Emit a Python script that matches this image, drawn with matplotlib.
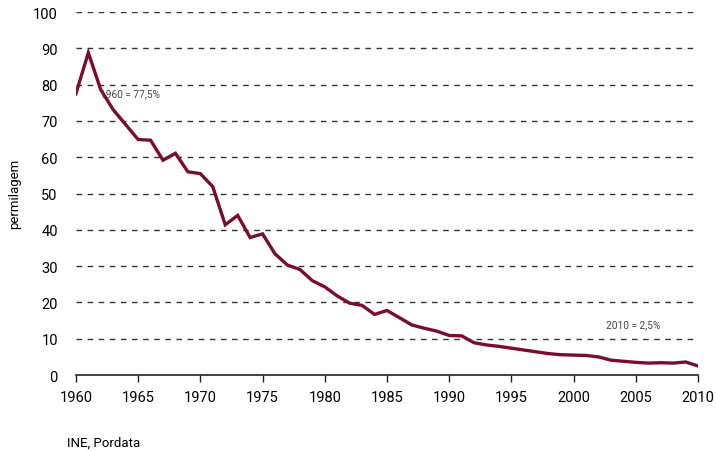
# mortalidade infantil, Portugal 1960-2010
import matplotlib.pyplot as plt
import numpy as np

years = list(range(1960, 2011))
permil = [77.5, 88.8, 78.6, 73.1, 69.0, 64.9, 64.7, 59.2, 61.1, 56.0,
          55.5, 51.9, 41.4, 44.0, 37.9, 38.9, 33.4, 30.3, 29.1, 26.0,
          24.3, 21.8, 19.8, 19.2, 16.7, 17.8, 15.8, 13.8, 12.9, 12.1,
          10.9, 10.8, 8.9, 8.3, 7.9, 7.4, 6.9, 6.4, 5.9, 5.6,
          5.5, 5.4, 5.0, 4.1, 3.8, 3.5, 3.3, 3.4, 3.3, 3.6, 2.5]

xticks = list(range(1960, 2011, 5))
yticks = list(range(0, 101, 10))

plt.rcParams['font.family'] = ['Roboto', 'DejaVu Sans']

fig = plt.figure(figsize=(7.16, 4.52), dpi=100)
ax = fig.add_axes([0.106, 0.168, 0.869, 0.803])

for y in yticks[1:]:
    ax.axhline(y, color='#333333', lw=1, ls=(0, (4, 4)), zorder=1)

ax.plot(years, permil, color='#7a0c30', lw=2.4, solid_joinstyle='miter', zorder=3)

ax.text(1961.9, 77.6, "1960 = 77,5%", fontsize=7.3, color='#444444', va='center')
ax.text(2002.6, 14.0, "2010 = 2,5%", fontsize=7.3, color='#444444', va='center')

ax.set_xlim(1960, 2010)
ax.set_ylim(0, 100)
ax.set_xticks(xticks)
ax.set_yticks(yticks)
ax.tick_params(axis='x', length=5, width=1, labelsize=10.5, pad=6, color='#222222')
ax.tick_params(axis='y', length=0, labelsize=10.5, pad=13)
for s in ['left', 'right', 'top']:
    ax.spines[s].set_visible(False)
ax.spines['bottom'].set_color('#222222')
ax.spines['bottom'].set_linewidth(1.2)
ax.spines['bottom'].set_zorder(4)

fig.text(15 / 716, 1 - 194 / 452, "permilagem", fontsize=9.5, rotation=90,
         va='center', ha='center')
fig.text(67 / 716, 1 - 443 / 452, "INE, Pordata", fontsize=9.5, va='center', ha='left')

fig.savefig("out.png", dpi=100)
